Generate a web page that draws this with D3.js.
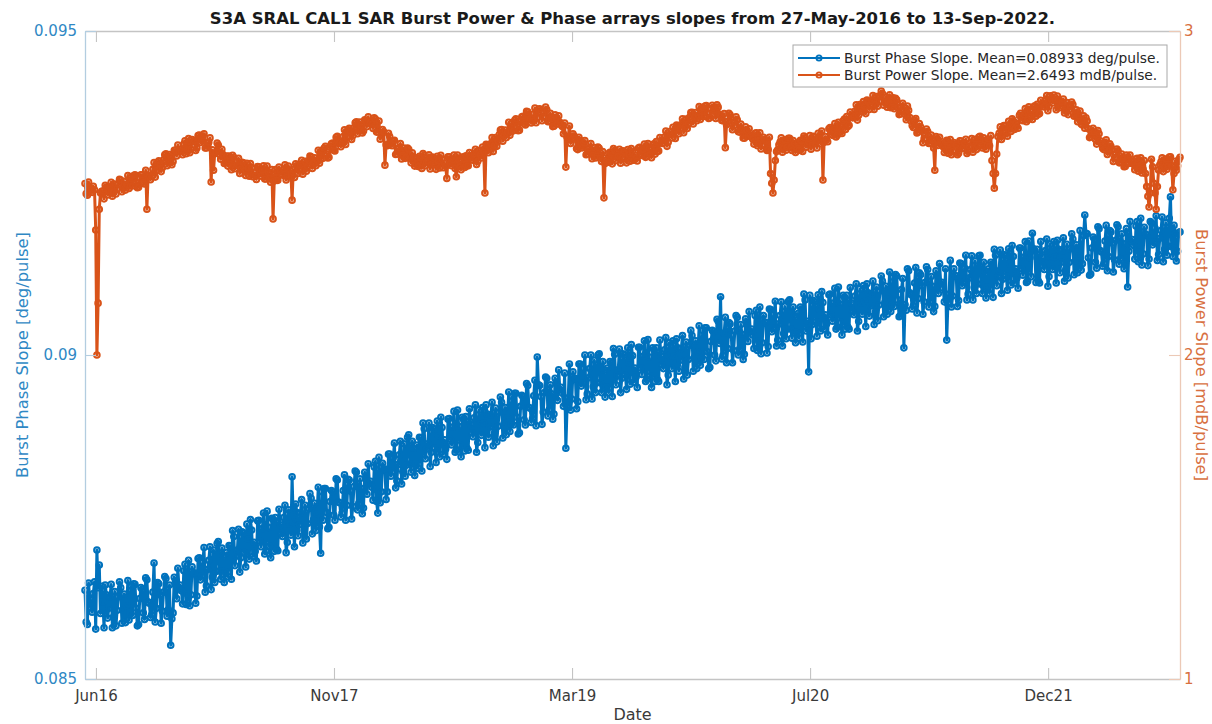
<!DOCTYPE html>
<html>
<head>
<meta charset="utf-8">
<script src="https://cdn.jsdelivr.net/npm/d3@7"></script>
<style>
  html, body { margin: 0; padding: 0; background: #ffffff; }
  svg { display: block; font-family: "DejaVu Sans", "Liberation Sans", sans-serif; }
</style>
</head>
<body>
<svg id="chart" width="1212" height="724"></svg>
<script>
// Sampling grid: one sample every 5 days, plus one sample halfway between
const firstDay = "2016-05-27";
const lastDay = "2022-09-13";
const stepDays = 5;
const halfStepHours = 60;

// Burst phase slope [deg/pulse] on the 5-day grid
const phaseSlope = [
  0.08637,0.08584,0.08623,0.08603,0.08650,0.08699,0.08676,0.08643,0.08579,0.08630,0.08609,0.08646,0.08596,0.08582,0.08627,0.08641,0.08606,0.08587,0.08652,0.08600,
  0.08598,0.08646,0.08582,0.08624,0.08638,0.08592,0.08653,0.08617,0.08599,0.08679,0.08609,0.08647,0.08586,0.08634,0.08655,0.08607,0.08552,0.08602,0.08652,0.08671,
  0.08645,0.08616,0.08677,0.08631,0.08613,0.08673,0.08664,0.08628,0.08687,0.08659,0.08703,0.08644,0.08683,0.08638,0.08699,0.08666,0.08712,0.08654,0.08691,0.08666,
  0.08658,0.08705,0.08729,0.08675,0.08699,0.08665,0.08727,0.08695,0.08739,0.08685,0.08730,0.08711,0.08682,0.08745,0.08704,0.08756,0.08697,0.08734,0.08687,0.08746,
  0.08749,0.08698,0.08738,0.08720,0.08768,0.08711,0.08739,0.08812,0.08704,0.08757,0.08738,0.08777,0.08729,0.08716,0.08763,0.08779,0.08746,0.08729,0.08796,0.08694,
  0.08745,0.08794,0.08732,0.08774,0.08789,0.08745,0.08807,0.08772,0.08756,0.08815,0.08768,0.08807,0.08747,0.08797,0.08819,0.08771,0.08794,0.08764,0.08813,0.08832,
  0.08805,0.08776,0.08836,0.08756,0.08772,0.08833,0.08824,0.08789,0.08847,0.08820,0.08864,0.08806,0.08846,0.08801,0.08863,0.08830,0.08877,0.08819,0.08856,0.08832,
  0.08825,0.08872,0.08895,0.08840,0.08863,0.08828,0.08888,0.08856,0.08898,0.08843,0.08888,0.08869,0.08839,0.08902,0.08861,0.08913,0.08853,0.08890,0.08843,0.08901,
  0.08905,0.08853,0.08893,0.08874,0.08923,0.08865,0.08893,0.08919,0.08857,0.08909,0.08889,0.08927,0.08879,0.08866,0.08912,0.08927,0.08894,0.08877,0.08943,0.08893,
  0.08892,0.08941,0.08878,0.08921,0.08936,0.08892,0.08953,0.08918,0.08902,0.08961,0.08997,0.08953,0.08893,0.08942,0.08964,0.08916,0.08940,0.08909,0.08958,0.08977,
  0.08950,0.08921,0.08856,0.08934,0.08915,0.08974,0.08964,0.08928,0.08986,0.08957,0.09000,0.08940,0.08979,0.08932,0.08992,0.08957,0.09002,0.08942,0.08977,0.08951,
  0.08942,0.08987,0.09010,0.08954,0.08977,0.08942,0.09002,0.08969,0.09011,0.08955,0.08999,0.08980,0.08950,0.09012,0.08970,0.09022,0.08962,0.08997,0.08950,0.09008,
  0.09011,0.08959,0.08998,0.08979,0.09027,0.08969,0.08996,0.09022,0.08959,0.09011,0.08992,0.09030,0.08981,0.08969,0.09015,0.09030,0.08997,0.08979,0.09045,0.08995,
  0.08993,0.09042,0.08979,0.09021,0.09036,0.08991,0.09052,0.09090,0.08999,0.09058,0.09010,0.09048,0.08988,0.09037,0.09058,0.09009,0.09032,0.09001,0.09049,0.09067,
  0.09040,0.09010,0.09069,0.09022,0.09002,0.09061,0.09050,0.09013,0.09070,0.09041,0.09083,0.09023,0.09061,0.09014,0.09075,0.09040,0.09085,0.09026,0.09061,0.09035,
  0.09026,0.09071,0.09094,0.09037,0.08974,0.09025,0.09084,0.09051,0.09093,0.09037,0.09081,0.09062,0.09031,0.09094,0.09052,0.09103,0.09043,0.09079,0.09031,0.09089,
  0.09092,0.09040,0.09080,0.09062,0.09110,0.09052,0.09080,0.09107,0.09044,0.09096,0.09076,0.09114,0.09066,0.09053,0.09099,0.09114,0.09081,0.09063,0.09128,0.09077,
  0.09075,0.09122,0.09059,0.09101,0.09011,0.09069,0.09130,0.09093,0.09076,0.09135,0.09087,0.09124,0.09063,0.09112,0.09132,0.09083,0.09106,0.09075,0.09123,0.09141,
  0.09112,0.09082,0.09023,0.09094,0.09074,0.09133,0.09122,0.09084,0.09141,0.09112,0.09154,0.09094,0.09132,0.09085,0.09145,0.09110,0.09154,0.09095,0.09130,0.09104,
  0.09095,0.09140,0.09163,0.09107,0.09130,0.09095,0.09155,0.09122,0.09164,0.09108,0.09152,0.09133,0.09103,0.09165,0.09123,0.09175,0.09114,0.09150,0.09188,0.09161,
  0.09163,0.09111,0.09151,0.09132,0.09179,0.09121,0.09149,0.09175,0.09111,0.09163,0.09143,0.09181,0.09132,0.09119,0.09164,0.09179,0.09145,0.09127,0.09192,0.09141,
  0.09216,0.09187,0.09123,0.09165,0.09179,0.09134,0.09195,0.09159,0.09141,0.09200,0.09152,0.09190,0.09128,0.09177,0.09198,0.09149,0.09172,0.09140,0.09105,0.09206,
  0.09178,0.09148,0.09206,0.09159,0.09139,0.09197,0.09185,0.09148,0.09204,0.09174,0.09215,0.09155,0.09192,0.09144,0.09204,0.09168,0.09244,0.09152,0.09187,0.09160,
  0.09190
];

// Burst phase slope [deg/pulse] halfway between grid samples
const phaseSlopeHalf = [
  0.08588,0.08648,0.08610,0.08632,0.08577,0.08641,0.08601,0.08619,0.08645,0.08594,0.08627,0.08579,0.08635,0.08606,0.08650,0.08586,0.08631,0.08613,0.08591,0.08643,
  0.08647,0.08609,0.08584,0.08641,0.08602,0.08656,0.08619,0.08595,0.08634,0.08588,0.08649,0.08630,0.08605,0.08658,0.08597,0.08645,0.08593,0.08657,0.08624,0.08640,
  0.08636,0.08667,0.08615,0.08683,0.08630,0.08663,0.08617,0.08686,0.08653,0.08681,0.08634,0.08669,0.08704,0.08657,0.08649,0.08709,0.08667,0.08702,0.08649,0.08695,
  0.08706,0.08654,0.08720,0.08690,0.08731,0.08687,0.08725,0.08673,0.08716,0.08746,0.08689,0.08697,0.08744,0.08713,0.08732,0.08693,0.08759,0.08705,0.08748,0.08697,
  0.08700,0.08762,0.08725,0.08749,0.08695,0.08761,0.08722,0.08742,0.08770,0.08721,0.08756,0.08710,0.08768,0.08740,0.08786,0.08724,0.08771,0.08755,0.08735,0.08789,
  0.08794,0.08757,0.08734,0.08791,0.08753,0.08809,0.08773,0.08750,0.08791,0.08745,0.08808,0.08790,0.08766,0.08821,0.08761,0.08809,0.08755,0.08819,0.08785,0.08801,
  0.08796,0.08827,0.08774,0.08842,0.08789,0.08823,0.08777,0.08847,0.08813,0.08842,0.08795,0.08831,0.08867,0.08820,0.08813,0.08873,0.08832,0.08867,0.08814,0.08861,
  0.08873,0.08821,0.08886,0.08855,0.08895,0.08850,0.08886,0.08834,0.08875,0.08904,0.08847,0.08855,0.08901,0.08870,0.08889,0.08850,0.08915,0.08861,0.08904,0.08852,
  0.08856,0.08917,0.08880,0.08903,0.08850,0.08915,0.08876,0.08895,0.08923,0.08873,0.08907,0.08860,0.08918,0.08890,0.08935,0.08872,0.08919,0.08903,0.08882,0.08936,
  0.08941,0.08904,0.08880,0.08938,0.08900,0.08956,0.08919,0.08896,0.08937,0.08891,0.08954,0.08936,0.08912,0.08966,0.08906,0.08954,0.08901,0.08964,0.08930,0.08946,
  0.08941,0.08972,0.08918,0.08986,0.08932,0.08964,0.08917,0.08986,0.08952,0.08979,0.08931,0.08965,0.09000,0.08951,0.08942,0.09000,0.08957,0.08990,0.08935,0.08980,
  0.08990,0.08936,0.09001,0.08969,0.09009,0.08964,0.09000,0.08947,0.08988,0.09016,0.08958,0.08966,0.09012,0.08980,0.08998,0.08959,0.09024,0.08968,0.09011,0.08959,
  0.08962,0.09023,0.08985,0.09008,0.08954,0.09019,0.08979,0.08998,0.09025,0.08975,0.09010,0.08963,0.09020,0.08993,0.09038,0.08975,0.09022,0.09005,0.08984,0.09038,
  0.09042,0.09005,0.08981,0.09038,0.09000,0.09055,0.09018,0.08994,0.09034,0.08988,0.09050,0.09031,0.09007,0.09061,0.09000,0.09047,0.08993,0.09056,0.09021,0.09036,
  0.09031,0.09061,0.09007,0.09074,0.09019,0.09051,0.09003,0.09071,0.09036,0.09063,0.09014,0.09048,0.09082,0.09033,0.09025,0.09083,0.09040,0.09074,0.09019,0.09064,
  0.09074,0.09020,0.09085,0.09052,0.09092,0.09047,0.09082,0.09029,0.09070,0.09098,0.09040,0.09048,0.09093,0.09062,0.09080,0.09040,0.09105,0.09050,0.09092,0.09040,
  0.09043,0.09104,0.09067,0.09091,0.09037,0.09102,0.09063,0.09083,0.09110,0.09060,0.09094,0.09047,0.09105,0.09077,0.09122,0.09059,0.09106,0.09089,0.09067,0.09120,
  0.09124,0.09085,0.09061,0.09118,0.09078,0.09133,0.09096,0.09071,0.09111,0.09065,0.09127,0.09107,0.09082,0.09136,0.09074,0.09121,0.09067,0.09130,0.09095,0.09110,
  0.09103,0.09133,0.09079,0.09146,0.09091,0.09123,0.09075,0.09142,0.09107,0.09134,0.09085,0.09119,0.09153,0.09104,0.09095,0.09153,0.09109,0.09143,0.09088,0.09133,
  0.09143,0.09089,0.09154,0.09122,0.09162,0.09117,0.09153,0.09100,0.09141,0.09169,0.09111,0.09119,0.09165,0.09133,0.09151,0.09112,0.09176,0.09121,0.09164,0.09112,
  0.09114,0.09175,0.09138,0.09161,0.09106,0.09171,0.09132,0.09151,0.09177,0.09127,0.09161,0.09114,0.09171,0.09143,0.09187,0.09124,0.09170,0.09153,0.09131,0.09184,
  0.09188,0.09150,0.09125,0.09182,0.09143,0.09198,0.09161,0.09137,0.09176,0.09130,0.09192,0.09173,0.09147,0.09201,0.09140,0.09187,0.09133,0.09195,0.09160,0.09175,
  0.09169,0.09199,0.09144,0.09211,0.09156,0.09187,0.09138,0.09206,0.09170,0.09196,0.09146,0.09180,0.09213,0.09163,0.09154,0.09211,0.09167,0.09200,0.09145,0.09189
];

// Burst power slope [mdB/pulse] on the 5-day grid
const powerSlope = [
  2.529,2.493,2.517,2.502,2.510,2.000,2.450,2.505,2.482,2.518,2.506,2.533,2.503,2.497,2.528,2.540,2.519,2.509,2.554,2.522,
  2.522,2.556,2.516,2.545,2.556,2.528,2.450,2.555,2.551,2.594,2.569,2.599,2.566,2.602,2.621,2.594,2.612,2.597,2.632,2.648,
  2.634,2.618,2.661,2.635,2.624,2.665,2.661,2.639,2.679,2.662,2.683,2.639,2.657,2.534,2.570,2.626,2.648,2.604,2.619,2.595,
  2.583,2.605,2.616,2.575,2.587,2.560,2.595,2.569,2.592,2.552,2.577,2.563,2.542,2.581,2.552,2.584,2.543,2.565,2.533,2.420,
  2.572,2.539,2.566,2.555,2.587,2.550,2.570,2.478,2.548,2.584,2.574,2.601,2.573,2.567,2.600,2.612,2.593,2.584,2.632,2.604,
  2.607,2.644,2.608,2.641,2.654,2.630,2.675,2.657,2.652,2.695,2.670,2.700,2.665,2.701,2.720,2.694,2.710,2.691,2.723,2.735,
  2.718,2.699,2.728,2.689,2.666,2.696,2.586,2.646,2.674,2.646,2.663,2.620,2.640,2.605,2.639,2.611,2.635,2.593,2.611,2.589,
  2.582,2.609,2.622,2.584,2.598,2.574,2.611,2.588,2.613,2.577,2.605,2.592,2.545,2.612,2.584,2.617,2.550,2.600,2.572,2.611,
  2.615,2.584,2.611,2.601,2.635,2.598,2.619,2.642,2.500,2.648,2.641,2.671,2.646,2.644,2.680,2.696,2.678,2.671,2.718,2.689,
  2.692,2.729,2.692,2.724,2.737,2.710,2.751,2.730,2.722,2.762,2.733,2.760,2.723,2.749,2.757,2.721,2.730,2.706,2.731,2.738,
  2.711,2.683,2.580,2.674,2.653,2.683,2.667,2.634,2.663,2.640,2.662,2.620,2.640,2.606,2.640,2.614,2.638,2.597,2.485,2.601,
  2.595,2.623,2.637,2.600,2.615,2.592,2.630,2.608,2.634,2.598,2.628,2.617,2.599,2.641,2.616,2.651,2.613,2.638,2.609,2.652,
  2.659,2.630,2.661,2.654,2.691,2.657,2.681,2.703,2.668,2.707,2.699,2.729,2.703,2.699,2.734,2.749,2.732,2.723,2.767,2.736,
  2.736,2.770,2.730,2.760,2.764,2.730,2.765,2.738,2.723,2.640,2.721,2.741,2.695,2.719,2.726,2.688,2.695,2.669,2.693,2.698,
  2.673,2.651,2.686,2.653,2.636,2.672,2.661,2.634,2.560,2.500,2.600,2.633,2.657,2.626,2.664,2.641,2.669,2.631,2.653,2.636,
  2.632,2.661,2.676,2.641,2.657,2.635,2.675,2.654,2.684,2.652,2.540,2.674,2.658,2.702,2.678,2.714,2.678,2.708,2.684,2.728,
  2.736,2.709,2.740,2.734,2.772,2.740,2.762,2.782,2.745,2.782,2.772,2.801,2.773,2.768,2.801,2.807,2.780,2.765,2.803,2.766,
  2.760,2.788,2.742,2.766,2.765,2.726,2.755,2.722,2.702,2.730,2.689,2.704,2.655,2.681,2.690,2.654,2.664,2.570,2.665,2.672,
  2.649,2.625,2.663,2.632,2.618,2.656,2.648,2.623,2.660,2.640,2.666,2.629,2.655,2.626,2.666,2.645,2.675,2.639,2.663,2.647,
  2.646,2.600,2.515,2.620,2.684,2.665,2.708,2.690,2.721,2.690,2.723,2.715,2.700,2.746,2.723,2.761,2.726,2.754,2.727,2.769,
  2.774,2.745,2.774,2.766,2.801,2.767,2.789,2.802,2.757,2.787,2.769,2.790,2.754,2.742,2.767,2.773,2.741,2.720,2.753,2.710,
  2.700,2.722,2.671,2.689,2.688,2.651,2.683,2.652,2.634,2.664,2.627,2.644,2.597,2.620,2.630,2.595,2.606,2.582,2.609,2.617,
  2.595,2.572,2.607,2.576,2.562,2.600,2.520,2.457,2.604,2.530,2.450,2.571,2.596,2.566,2.605,2.583,2.612,2.510,2.598,2.584,
  2.610
];

// Burst power slope [mdB/pulse] halfway between grid samples
const powerSlopeHalf = [
  2.498,2.534,2.509,2.521,2.386,2.160,2.500,2.506,2.524,2.494,2.518,2.490,2.528,2.512,2.542,2.504,2.535,2.526,2.514,2.550,
  2.554,2.532,2.518,2.556,2.533,2.570,2.551,2.541,2.573,2.549,2.594,2.588,2.578,2.618,2.584,2.619,2.587,2.632,2.614,2.628,
  2.628,2.651,2.621,2.668,2.635,2.658,2.631,2.677,2.656,2.676,2.639,2.655,2.670,2.633,2.622,2.654,2.619,2.635,2.591,2.614,
  2.614,2.572,2.610,2.585,2.607,2.574,2.593,2.554,2.577,2.591,2.550,2.554,2.582,2.560,2.570,2.543,2.583,2.546,2.572,2.537,
  2.541,2.580,2.558,2.574,2.540,2.583,2.559,2.572,2.590,2.560,2.586,2.558,2.598,2.582,2.614,2.576,2.609,2.601,2.592,2.632,
  2.639,2.620,2.610,2.652,2.631,2.672,2.653,2.643,2.674,2.650,2.695,2.689,2.677,2.717,2.683,2.719,2.685,2.726,2.705,2.715,
  2.712,2.732,2.688,2.722,2.677,2.689,2.649,2.684,2.651,2.660,2.619,2.636,2.653,2.617,2.607,2.639,2.606,2.624,2.583,2.608,
  2.613,2.576,2.616,2.594,2.618,2.588,2.609,2.573,2.598,2.616,2.578,2.583,2.612,2.591,2.602,2.576,2.617,2.581,2.611,2.579,
  2.584,2.625,2.603,2.620,2.588,2.631,2.608,2.627,2.650,2.624,2.653,2.628,2.671,2.659,2.694,2.660,2.694,2.688,2.678,2.717,
  2.724,2.705,2.694,2.735,2.714,2.752,2.729,2.716,2.744,2.717,2.758,2.749,2.735,2.765,2.720,2.746,2.705,2.741,2.713,2.718,
  2.705,2.716,2.673,2.707,2.664,2.676,2.637,2.672,2.640,2.654,2.618,2.636,2.653,2.618,2.608,2.642,2.609,2.628,2.591,2.620,
  2.626,2.590,2.631,2.610,2.635,2.606,2.628,2.593,2.619,2.637,2.601,2.608,2.639,2.620,2.634,2.610,2.653,2.619,2.648,2.620,
  2.628,2.671,2.653,2.673,2.644,2.690,2.670,2.688,2.710,2.683,2.711,2.686,2.728,2.714,2.748,2.713,2.748,2.740,2.727,2.764,
  2.768,2.746,2.732,2.771,2.741,2.772,2.743,2.724,2.745,2.711,2.746,2.730,2.707,2.735,2.689,2.713,2.670,2.704,2.675,2.678,
  2.667,2.684,2.646,2.686,2.647,2.665,2.631,2.672,2.530,2.540,2.628,2.649,2.670,2.638,2.632,2.669,2.640,2.662,2.625,2.655,
  2.663,2.628,2.670,2.651,2.677,2.649,2.673,2.639,2.669,2.691,2.657,2.665,2.698,2.681,2.696,2.673,2.718,2.689,2.723,2.696,
  2.705,2.750,2.732,2.753,2.725,2.773,2.751,2.767,2.787,2.758,2.784,2.758,2.798,2.783,2.815,2.771,2.796,2.782,2.763,2.794,
  2.792,2.764,2.744,2.777,2.742,2.768,2.733,2.708,2.724,2.685,2.714,2.693,2.667,2.697,2.653,2.679,2.639,2.674,2.647,2.652,
  2.643,2.658,2.623,2.665,2.629,2.649,2.618,2.661,2.637,2.654,2.622,2.645,2.668,2.638,2.634,2.673,2.646,2.670,2.635,2.666,
  2.677,2.560,2.560,2.674,2.704,2.679,2.706,2.675,2.706,2.729,2.696,2.706,2.740,2.725,2.741,2.720,2.766,2.735,2.766,2.737,
  2.743,2.786,2.766,2.785,2.754,2.800,2.778,2.787,2.799,2.763,2.781,2.747,2.779,2.757,2.781,2.737,2.757,2.737,2.713,2.738,
  2.732,2.698,2.673,2.700,2.665,2.693,2.661,2.638,2.656,2.619,2.652,2.633,2.609,2.636,2.593,2.620,2.581,2.617,2.591,2.597,
  2.589,2.605,2.567,2.609,2.573,2.560,2.490,2.500,2.581,2.500,2.520,2.587,2.609,2.579,2.573,2.611,2.583,2.560,2.570,2.603
];

// Axis ticks
const dateTicks = ["2016-06-19", "2017-11-01", "2019-03-16", "2020-07-28", "2021-12-10"];
const phaseTicks = [0.085, 0.09, 0.095];
const powerTicks = [1, 2, 3];
const phaseRange = [0.085, 0.095];
const powerRange = [1, 3];

// Text
const titleText = "S3A SRAL CAL1 SAR Burst Power & Phase arrays slopes from 27-May-2016 to 13-Sep-2022.";
const legendLabels = [
  "Burst Phase Slope. Mean=0.08933 deg/pulse.",
  "Burst Power Slope. Mean=2.6493 mdB/pulse."
];
const xLabel = "Date";
const phaseLabel = "Burst Phase Slope [deg/pulse]";
const powerLabel = "Burst Power Slope [mdB/pulse]";

// ---------------------------------------------------------------
const BLUE = "#0072BD";
const ORANGE = "#D95319";
const box = { left: 85, right: 1180, top: 31, bottom: 679 };
const tickLen = 11;

const svg = d3.select("#chart");
const parse = d3.utcParse("%Y-%m-%d");
const start = parse(firstDay);

// Merge grid samples and half-step samples into one time-ordered series
function buildSeries(grid, half) {
  const rows = [];
  grid.forEach((v, i) => {
    const d = d3.utcDay.offset(start, i * stepDays);
    rows.push({ date: d, v });
    if (i < half.length) rows.push({ date: d3.utcHour.offset(d, halfStepHours), v: half[i] });
  });
  return rows;
}
const phaseData = buildSeries(phaseSlope, phaseSlopeHalf);
const powerData = buildSeries(powerSlope, powerSlopeHalf);

const x = d3.scaleUtc().domain([start, parse(lastDay)]).range([box.left, box.right]);
const yPhase = d3.scaleLinear().domain(phaseRange).range([box.bottom, box.top]);
const yPower = d3.scaleLinear().domain(powerRange).range([box.bottom, box.top]);

// Series: line plus hollow circle markers
function drawSeries(data, y, color) {
  const g = svg.append("g");
  g.append("path")
    .datum(data)
    .attr("fill", "none")
    .attr("stroke", color)
    .attr("stroke-width", 3)
    .attr("stroke-linejoin", "round")
    .attr("stroke-linecap", "round")
    .attr("d", d3.line().x(d => x(d.date)).y(d => y(d.v)));
  g.selectAll("circle")
    .data(data)
    .join("circle")
    .attr("cx", d => x(d.date))
    .attr("cy", d => y(d.v))
    .attr("r", 2.8)
    .attr("fill", "none")
    .attr("stroke", color)
    .attr("stroke-width", 2);
}
drawSeries(phaseData, yPhase, BLUE);
drawSeries(powerData, yPower, ORANGE);

// Axes (ticks pointing inward, full box)
const tickFont = "15px";
function styleAxis(g, lineColor, textColor) {
  g.select(".domain").attr("stroke", lineColor).attr("stroke-width", 1.3);
  g.selectAll(".tick line").attr("stroke", lineColor).attr("stroke-width", 1.1);
  g.selectAll(".tick text").attr("fill", textColor).style("font-size", tickFont)
    .style("font-family", '"DejaVu Sans", sans-serif');
}

const xAxis = svg.append("g")
  .attr("transform", `translate(0,${box.bottom})`)
  .call(d3.axisBottom(x).tickValues(dateTicks.map(parse))
    .tickFormat(d3.utcFormat("%b%y")).tickSize(-tickLen).tickSizeOuter(0).tickPadding(11));
styleAxis(xAxis, "#c4c4c4", "#3a3a3a");

const topAxis = svg.append("g")
  .attr("transform", `translate(0,${box.top})`)
  .call(d3.axisTop(x).tickValues(dateTicks.map(parse))
    .tickFormat(() => "").tickSize(-tickLen).tickSizeOuter(0));
styleAxis(topAxis, "#c4c4c4", "#3a3a3a");

const leftAxis = svg.append("g")
  .attr("transform", `translate(${box.left},0)`)
  .call(d3.axisLeft(yPhase).tickValues(phaseTicks).tickFormat(d => String(d))
    .tickSize(-tickLen).tickSizeOuter(0).tickPadding(8));
styleAxis(leftAxis, "#b3cde0", "#2f88c4");

const rightAxis = svg.append("g")
  .attr("transform", `translate(${box.right},0)`)
  .call(d3.axisRight(yPower).tickValues(powerTicks).tickFormat(d => String(d))
    .tickSize(-tickLen).tickSizeOuter(0).tickPadding(4));
styleAxis(rightAxis, "#ecc9b6", "#d8703f");

// Size a text element so that it spans the wanted width
function fitWidth(sel, width) {
  const node = sel.node();
  const base = parseFloat(sel.style("font-size"));
  const len = node.getComputedTextLength();
  if (len > 0) sel.style("font-size", (base * width / len).toFixed(2) + "px");
  return sel;
}

// Title and axis labels
fitWidth(svg.append("text")
  .attr("x", (box.left + box.right) / 2)
  .attr("y", 24)
  .attr("text-anchor", "middle")
  .attr("font-weight", "bold")
  .attr("fill", "#1a1a1a")
  .style("font-size", "16px")
  .text(titleText), 846);

svg.append("text")
  .attr("x", (box.left + box.right) / 2)
  .attr("y", 720)
  .attr("text-anchor", "middle")
  .attr("fill", "#3a3a3a")
  .style("font-size", "16px")
  .text(xLabel);

fitWidth(svg.append("text")
  .attr("transform", `translate(28,${(box.top + box.bottom) / 2}) rotate(-90)`)
  .attr("text-anchor", "middle")
  .attr("fill", "#2f88c4")
  .style("font-size", "16px")
  .text(phaseLabel), 246);

fitWidth(svg.append("text")
  .attr("transform", `translate(1196,${(box.top + box.bottom) / 2}) rotate(90)`)
  .attr("text-anchor", "middle")
  .attr("fill", "#d8703f")
  .style("font-size", "16px")
  .text(powerLabel), 252);

// Legend
const legend = svg.append("g");
legend.append("rect")
  .attr("x", 793).attr("y", 45)
  .attr("width", 374).attr("height", 42)
  .attr("fill", "#ffffff")
  .attr("stroke", "#a8a8a8")
  .attr("stroke-width", 1);
[BLUE, ORANGE].forEach((c, i) => {
  const ly = 58 + i * 17;
  legend.append("line")
    .attr("x1", 798).attr("x2", 840).attr("y1", ly).attr("y2", ly)
    .attr("stroke", c).attr("stroke-width", 1.8);
  legend.append("circle")
    .attr("cx", 819).attr("cy", ly).attr("r", 2.6)
    .attr("fill", "none").attr("stroke", c).attr("stroke-width", 1.8);
  const t = legend.append("text")
    .attr("x", 844).attr("y", ly + 4.6)
    .attr("fill", "#262626")
    .style("font-size", "13px")
    .text(legendLabels[i]);
  if (i === 0) fitWidth(t, 316);
  else t.style("font-size", legend.select("text").style("font-size"));
});
</script>
</body>
</html>
